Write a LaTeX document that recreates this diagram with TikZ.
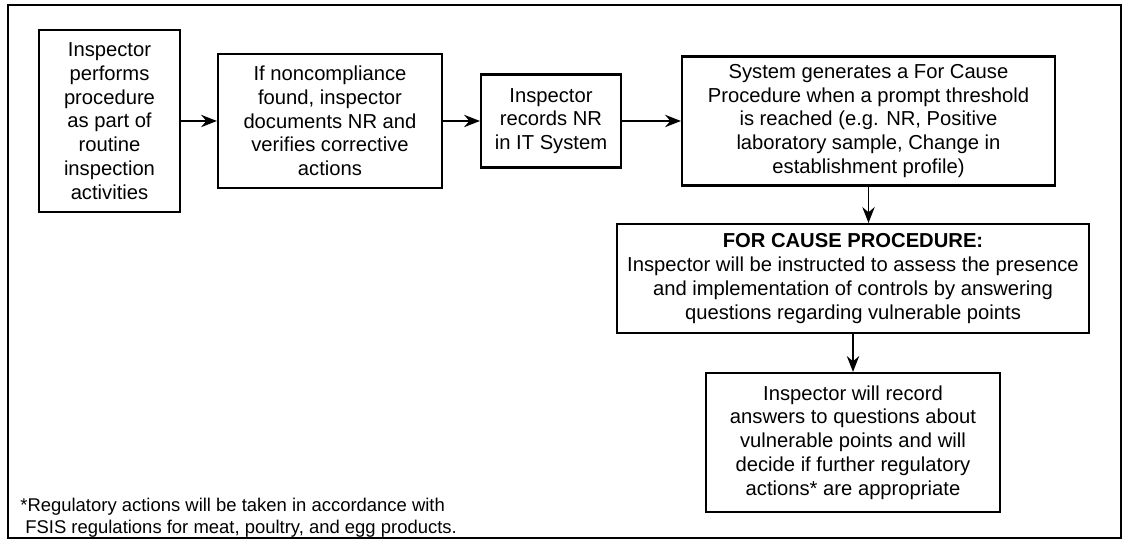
\documentclass[tikz,border=0pt]{standalone}
\usepackage{fontspec}
\setmainfont{Liberation Sans}
\usepackage{tikz}
\usetikzlibrary{shapes.geometric, arrows, arrows.meta, calc}
\tikzstyle{process} = [rectangle, draw=black, line width=1.2pt, inner sep=2pt, align=center, font=\fontsize{11.5}{13.5}\selectfont]
\tikzstyle{arrow} = [line width=1.1pt,->,>={Stealth[length=9pt,width=7pt]}]

\begin{document}
\begin{tikzpicture}
    \useasboundingbox (0,0) rectangle (22.6,-10.78);
    \draw[line width=1.2pt] (0.16,-0.1) rectangle (22.42,-10.76);

    \node (inspector_performs) [process, minimum width=2.82cm, minimum height=3.64cm, yshift=-2.42cm, xshift=2.19cm] {Inspector\\performs\\procedure\\as part of\\routine\\inspection\\activities};

    \node (documents_nr) [process, minimum width=4.48cm, minimum height=2.68cm, yshift=-2.42cm, xshift=6.6cm] {If noncompliance\\found, inspector\\documents NR and\\verifies corrective\\actions};

    \node (records_nr) [process, minimum width=2.8cm, minimum height=1.86cm, yshift=-2.42cm, xshift=11.02cm] {Inspector\\records NR\\in IT System};

    \node (system_generates) [process, minimum width=7.46cm, minimum height=2.58cm, yshift=-2.42cm, xshift=17.37cm] {System generates a For Cause\\Procedure when a prompt threshold\\is reached (e.g. NR, Positive\\laboratory sample, Change in\\establishment profile)};

    \node (for_cause) [process, minimum width=9.44cm, minimum height=2.18cm, yshift=-5.57cm, xshift=17.06cm] {\textbf{FOR CAUSE PROCEDURE:}\\Inspector will be instructed to assess the presence\\and implementation of controls by answering\\questions regarding vulnerable points};

    \node (records_answers) [process, minimum width=5.88cm, minimum height=2.78cm, yshift=-8.85cm, xshift=17.06cm] {Inspector will record\\answers to questions about\\vulnerable points and will\\decide if further regulatory\\actions* are appropriate};

    \node (footnote) [anchor=north west, inner sep=0pt, align=left, font=\fontsize{10.5}{12.5}\selectfont] at (0.4,-9.96) {*Regulatory actions will be taken in accordance with\\\hspace{0.1cm}FSIS regulations for meat, poultry, and egg products.};

    \draw[arrow] (inspector_performs) -- (documents_nr);
    \draw[arrow] (documents_nr) -- (records_nr);
    \draw[arrow] (records_nr) -- (system_generates);
    \draw[arrow] (system_generates.south) -- (system_generates.south |- for_cause.north);
    \draw[arrow] (for_cause) -- (records_answers);
\end{tikzpicture}
\end{document}
